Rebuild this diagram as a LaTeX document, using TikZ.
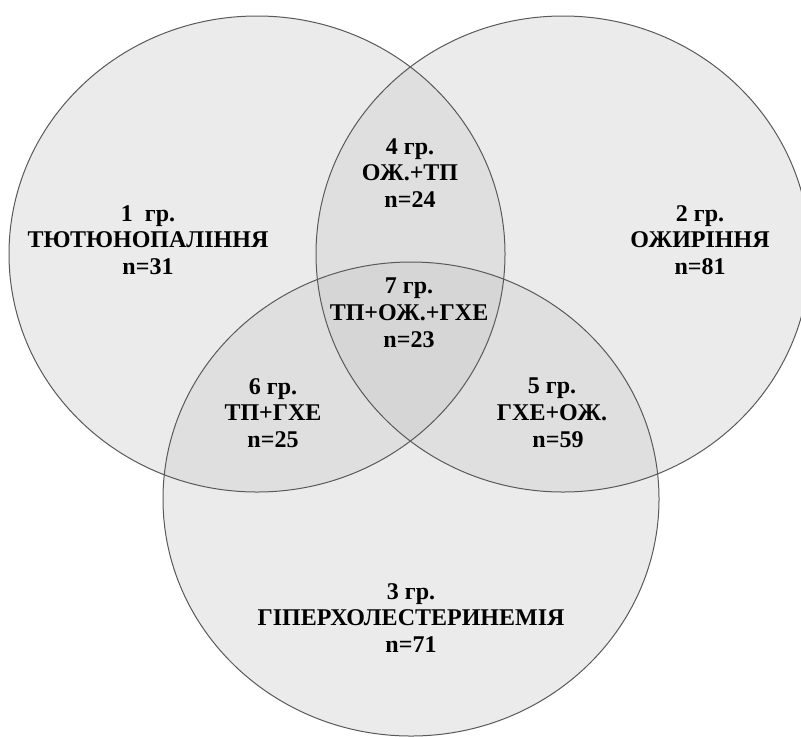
\documentclass[tikz,border=0pt]{standalone}
\usepackage{fontspec}
\setmainfont{Liberation Serif}[BoldFont={Liberation Serif Bold}]

\begin{document}
\begin{tikzpicture}[
    x=0.5pt, y=0.5pt,
    setfill/.style={fill=black!22, fill opacity=0.35},
    setline/.style={draw=black!65, line width=0.5pt},
    grp/.style={font=\rmfamily\bfseries\fontsize{12}{13.4}\selectfont, align=center, inner sep=0pt}
]
\useasboundingbox (0,0) rectangle (801,736);
\clip (0,0) rectangle (801,736);

% =================== SETS (fills first, then outlines) ===================
\fill[setfill] (257,482) ellipse [x radius=248, y radius=238];
\fill[setfill] (563,482) ellipse [x radius=247, y radius=238];
\fill[setfill] (411,237) ellipse [x radius=248, y radius=237];

\draw[setline] (257,482) ellipse [x radius=248, y radius=238];
\draw[setline] (563,482) ellipse [x radius=247, y radius=238];
\draw[setline] (411,237) ellipse [x radius=248, y radius=237];

% =================== GROUPS ===================
\node[grp] (g1) at (148,496) {1\ \ гр.\\ТЮТЮНОПАЛІННЯ\\n=31};
\node[grp] (g2) at (700,496) {2 гр.\\ОЖИРІННЯ\\n=81};
\node[grp] (g3) at (411,118) {3 гр.\\ГІПЕРХОЛЕСТЕРИНЕМІЯ\\n=71};
\node[grp] (g4) at (410,563) {4 гр.\\ОЖ.+ТП\\n=24};
\node[grp] (g5) at (552,323) {5 гр.\\ГХЕ+ОЖ.\\\ \ n=59};
\node[grp] (g6) at (273,323) {6 гр.\\ТП+ГХЕ\\n=25};
\node[grp] (g7) at (409,423) {7 гр.\\ТП+ОЖ.+ГХЕ\\n=23};

\end{tikzpicture}
\end{document}
